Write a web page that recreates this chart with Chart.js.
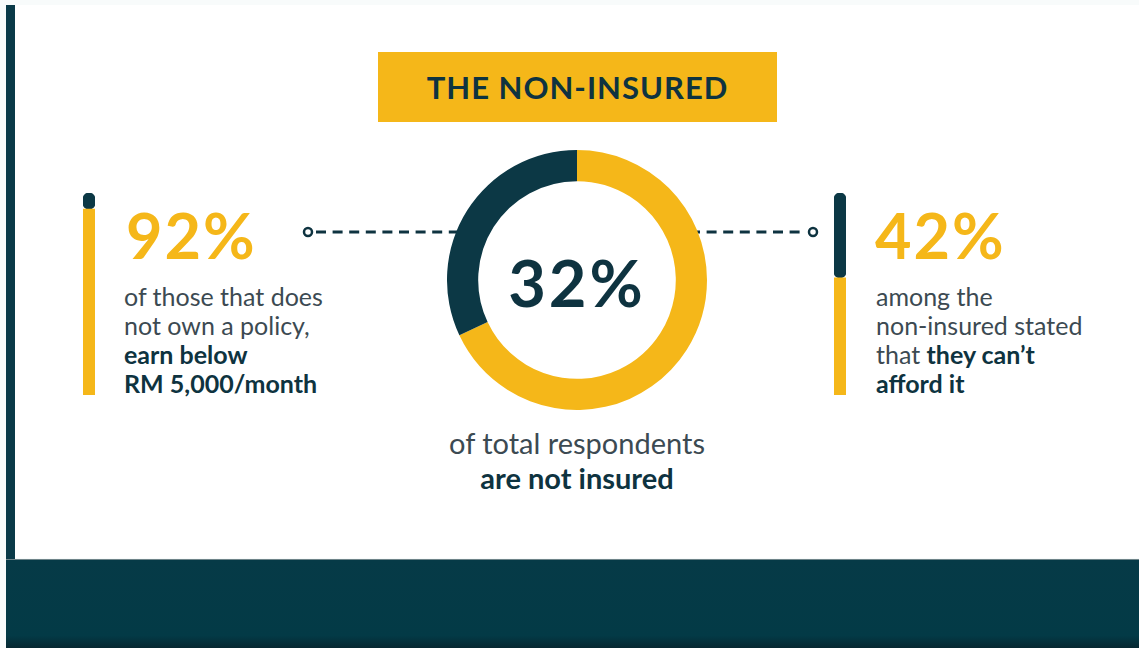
<!DOCTYPE html>
<html>
<head>
<meta charset="utf-8">
<script src="https://cdn.jsdelivr.net/npm/chart.js@4/dist/chart.umd.min.js"></script>
<style>
  html, body { margin: 0; padding: 0; }
  body {
    width: 1139px; height: 648px; position: relative; overflow: hidden;
    background: #f8fbfb; font-family: Lato, "Open Sans", sans-serif;
  }
  .card { position: absolute; left: 15px; top: 5px; width: 1124px; height: 553px; background: #fff; }
  .strip { position: absolute; left: 6px; top: 5px; width: 9px; height: 554px; background: #0a3a48; }
  .band {
    position: absolute; left: 6px; top: 559px; width: 1133px; height: 89px;
    background: linear-gradient(#063a47 0%, #033a46 85%, #06262f 100%);
    border-top: 1px solid #6f8489;
  }
  .title {
    position: absolute; left: 378px; top: 52px; width: 399px; height: 70px;
    background: #f5b719; color: #0e3340; font-weight: 700; font-size: 31px;
    display: flex; align-items: center; justify-content: center; letter-spacing: 1px;
  }
  .big { position: absolute; font-weight: 700; font-size: 63px; line-height: 1; color: #f5b719; letter-spacing: 2px; }
  .txt { position: absolute; font-size: 25px; line-height: 29px; color: #3c4a52; white-space: nowrap; }
  .txt b { color: #0e3340; font-weight: 700; }
  .center { text-align: center; }
  canvas { position: absolute; }
  #dash { position: absolute; left: 0; top: 0; }
</style>
</head>
<body>
<div class="card"></div>
<div class="strip"></div>
<div class="band"></div>

<div class="title">THE NON-INSURED</div>

<svg id="dash" width="1139" height="648">
  <line x1="316" y1="232" x2="470" y2="232" stroke="#0e3340" stroke-width="3" stroke-dasharray="10 6.6"/>
  <circle cx="308" cy="232" r="4" fill="#fff" stroke="#0e3340" stroke-width="2.5"/>
  <line x1="690" y1="232" x2="806" y2="232" stroke="#0e3340" stroke-width="3" stroke-dasharray="10 6.6"/>
  <circle cx="813" cy="232" r="4" fill="#fff" stroke="#0e3340" stroke-width="2.5"/>
</svg>

<canvas id="donut" style="left:447px; top:150px;" width="260" height="260"></canvas>
<canvas id="barLeft" style="left:83px; top:193px;" width="12" height="202"></canvas>
<canvas id="barRight" style="left:834px; top:193px;" width="12" height="202"></canvas>

<div class="big" style="left:126px; top:203px;">92%</div>
<div class="txt" style="left:124px; top:282px;">of those that does<br>not own a policy,<br><b>earn below<br>RM 5,000/month</b></div>

<div class="big center" style="left:477px; top:250px; width:200px; color:#0e3340; font-size:65px; letter-spacing:3px;">32%</div>
<div class="txt center" style="left:377px; top:425px; width:400px; font-size:29px; line-height:35px;">of total respondents<br><b>are not insured</b></div>

<div class="big" style="left:875px; top:203px;">42%</div>
<div class="txt" style="left:876px; top:282px;">among the<br>non-insured stated<br>that <b>they can’t<br>afford it</b></div>

<script>
"use strict";

const YELLOW = '#f5b719';
const DARK = '#0c3845';

//--data--
const donutLabels = ['Insured', 'Not insured'];
const donutValues = [68, 32];

const incomeLabels = ['Earn below RM 5,000/month', 'Others'];
const incomeValues = [92, 8];

const affordLabels = ["Can't afford it", 'Others'];
const affordValues = [58, 42];

//ドーナツ
new Chart(document.getElementById('donut'), {
    type: 'doughnut',
    data: {
        labels: donutLabels,
        datasets: [{
            data: donutValues,
            backgroundColor: [YELLOW, DARK],
            borderWidth: 0,
        }]
    },
    options: {
        responsive: false,
        animation: false,
        cutout: '76%',
        rotation: 0,
        layout: { padding: 0 },
        plugins: { legend: { display: false }, tooltip: { enabled: false } },
    },
});

//縦棒
function makeBar(id, labels, values) {
    return new Chart(document.getElementById(id), {
        type: 'bar',
        data: {
            labels: [''],
            datasets: [{
                label: labels[0],
                data: [values[0]],
                backgroundColor: YELLOW,
                borderRadius: 6,
                borderSkipped: false,
                barPercentage: 1,
                categoryPercentage: 1,
            }, {
                label: labels[1],
                data: [values[1]],
                backgroundColor: DARK,
                borderRadius: 6,
                borderSkipped: false,
                barPercentage: 1,
                categoryPercentage: 1,
            }]
        },
        options: {
            responsive: false,
            animation: false,
            layout: { padding: 0 },
            scales: {
                x: { stacked: true, display: false },
                y: { stacked: true, display: false, min: 0, max: 100 },
            },
            plugins: { legend: { display: false }, tooltip: { enabled: false } },
        },
    });
}

makeBar('barLeft', incomeLabels, incomeValues);
makeBar('barRight', affordLabels, affordValues);
</script>
</body>
</html>
